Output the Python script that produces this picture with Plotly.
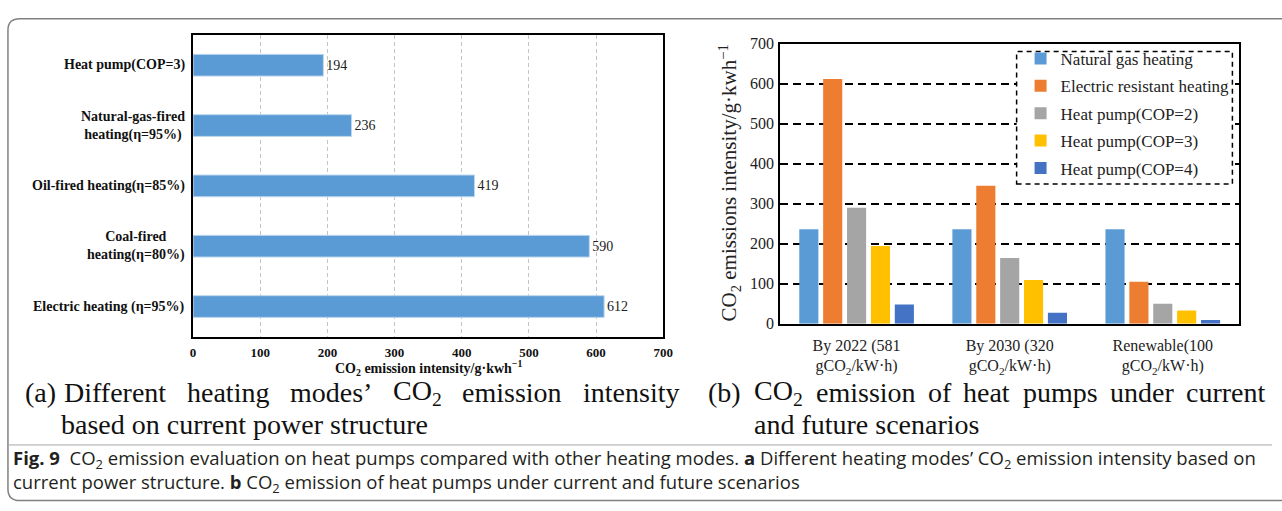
import plotly.graph_objects as go

W, H = 1282, 511

# ---- data: (a) heating modes, current power structure ----
modes = [
    "Heat pump(COP=3)",
    "Natural-gas-fired<br>heating(η=95%)",
    "Oil-fired heating(η=85%)",
    "Coal-fired<br>heating(η=80%)",
    "Electric heating (η=95%)",
]
mode_intensity = [194, 236, 419, 590, 612]
intensity_ticks = [0, 100, 200, 300, 400, 500, 600, 700]

# ---- data: (b) scenarios ----
scenarios = ["By 2022", "By 2030", "Renewable"]
scenario_labels = [
    "By 2022 (581<br>gCO<sub>2</sub>/kW·h)",
    "By 2030 (320<br>gCO<sub>2</sub>/kW·h)",
    "Renewable(100<br>gCO<sub>2</sub>/kW·h)",
]
natural_gas = [236, 236, 236]
electric_resistant = [612, 345, 105]
hp_cop2 = [290, 164, 50]
hp_cop3 = [194, 109, 33]
hp_cop4 = [48, 27, 9]
series_names = [
    "Natural gas heating",
    "Electric resistant heating",
    "Heat pump(COP=2)",
    "Heat pump(COP=3)",
    "Heat pump(COP=4)",
]
series_colors = ["#5B9BD5", "#ED7D31", "#A5A5A5", "#FFC000", "#4472C4"]


def px(x):
    return x / W


def py(y):
    return 1 - y / H


SERIF = "Liberation Serif, Times New Roman, serif"

fig = go.Figure()

# (a) horizontal bars
fig.add_trace(go.Bar(
    x=mode_intensity, y=modes, orientation="h",
    xaxis="x", yaxis="y", width=0.36,
    marker=dict(color="#5B9BD5", line=dict(color="#BDD7EE", width=1)),
    text=mode_intensity, textposition="outside", cliponaxis=False,
    textfont=dict(family=SERIF, size=14, color="#222"),
    showlegend=False, hoverinfo="skip",
))

# (b) grouped bars, one legend group each so the rows can be spaced
for name, vals, col in zip(series_names,
                           [natural_gas, electric_resistant, hp_cop2, hp_cop3, hp_cop4],
                           series_colors):
    fig.add_trace(go.Bar(
        x=scenarios, y=vals, name=name, legendgroup=name,
        xaxis="x2", yaxis="y2",
        marker=dict(color=col, line=dict(width=0)),
    ))

fig.update_layout(
    width=W, height=H, margin=dict(l=0, r=0, t=0, b=0),
    paper_bgcolor="white", plot_bgcolor="white",
    barmode="group", bargap=0.22, bargroupgap=0.2,
    font=dict(family=SERIF, color="#222"),
    xaxis=dict(
        domain=[px(192), px(667)], anchor="y", range=[0, 700],
        tickvals=intensity_ticks, ticks="", ticklabelstandoff=3,
        tickfont=dict(family=SERIF, size=13, color="#111", weight="bold"),
        showgrid=True, gridcolor="#c4c4c4", griddash="4px,3px", gridwidth=1,
        showline=True, mirror=True, linecolor="black", linewidth=2,
        zeroline=False,
    ),
    yaxis=dict(
        domain=[py(340), py(28)], anchor="x", type="category",
        categoryorder="array", categoryarray=modes,
        range=[4.5, -0.5], showticklabels=False, ticks="",
        showgrid=False, showline=True, mirror=True,
        linecolor="black", linewidth=2, zeroline=False,
    ),
    xaxis2=dict(
        domain=[px(785), px(1249)], anchor="y2", type="category",
        categoryorder="array", categoryarray=scenarios,
        range=[-0.5, 2.5], tickvals=scenarios, ticktext=scenario_labels,
        ticks="", ticklabelstandoff=6,
        tickfont=dict(family=SERIF, size=16, color="#222"),
        showgrid=False, showline=True, mirror=True,
        linecolor="black", linewidth=1.5, zeroline=False,
    ),
    yaxis2=dict(
        domain=[py(326.5), py(37)], anchor="x2", range=[0, 700], dtick=100,
        ticks="", ticklabelstandoff=1,
        tickfont=dict(family=SERIF, size=16, color="#222"),
        showgrid=True, gridcolor="black", gridwidth=1.5, griddash="8px,5px",
        showline=True, mirror=True, linecolor="black", linewidth=1.5,
        zeroline=False,
    ),
    legend=dict(
        x=px(1028), y=py(34), xanchor="left", yanchor="top",
        font=dict(family=SERIF, size=17, color="#222"),
        bgcolor="rgba(0,0,0,0)", borderwidth=0, itemwidth=30,
        traceorder="grouped", tracegroupgap=2.3,
    ),
)

shapes = []
# dashed box behind the legend
shapes.append(dict(type="rect", xref="paper", yref="paper",
                   x0=px(1024), x1=px(1242), y0=py(182), y1=py(45),
                   line=dict(color="black", width=1.5, dash="5px,4px"),
                   fillcolor="white", layer="above"))
# outer rounded frame
rx, ry = 12 / W, 12 / H
xl, yt, yb = px(5), py(11), py(509.5)
frame_path = (f"M 1.01,{yt} L {xl + rx},{yt} Q {xl},{yt} {xl},{yt - ry} "
              f"L {xl},{yb + ry} Q {xl},{yb} {xl + rx},{yb} L 1.01,{yb}")
shapes.append(dict(type="path", xref="paper", yref="paper", path=frame_path,
                   line=dict(color="#808080", width=1.5)))
# separator above the figure caption
shapes.append(dict(type="line", xref="paper", yref="paper",
                   x0=px(5), x1=1.0, y0=py(452), y1=py(452),
                   line=dict(color="#a8a8a8", width=1)))
fig.update_layout(shapes=shapes)

ann = []
# category labels for (a), centred multi-line
for m in modes:
    ann.append(dict(text=f"<b>{m}</b>", xref="paper", yref="y", x=px(186), y=m,
                    xanchor="right", yanchor="middle", align="center",
                    showarrow=False,
                    font=dict(family=SERIF, size=14, color="#111")))
# axis titles
ann.append(dict(text="<b>CO<sub>2</sub> emission intensity/g·kwh<sup>−1</sup></b>",
                xref="paper", yref="paper", x=px(430), y=py(372),
                xanchor="center", yanchor="middle", showarrow=False,
                font=dict(family=SERIF, size=14, color="#111")))
ann.append(dict(text="CO<sub>2</sub> emissions intensity/g·kwh<sup>−1</sup>",
                xref="paper", yref="paper", x=px(734), y=py(181),
                xanchor="center", yanchor="middle", textangle=-90,
                showarrow=False,
                font=dict(family=SERIF, size=21, color="#222")))

# sub-figure captions, word by word for justified lines
CAP = dict(family=SERIF, size=28, color="#111")
cap_words = [
    ("(a)", 20, 398), ("Different", 60, 398), ("heating", 184, 398),
    ("modes’", 288, 398), ("CO<sub>2</sub>", 392, 398), ("emission", 462, 398),
    ("intensity", 584, 398),
    ("based on current power structure", 57, 431),
    ("(b)", 710, 398), ("CO<sub>2</sub>", 757, 398), ("emission", 819, 398),
    ("of", 932, 398), ("heat", 968, 398), ("pumps", 1028, 398),
    ("under", 1116, 398), ("current", 1193, 398),
    ("and future scenarios", 757, 431),
]
for t, x, y in cap_words:
    ann.append(dict(text=t, xref="paper", yref="paper", x=px(x), y=py(y),
                    xanchor="left", yanchor="middle", showarrow=False, font=CAP))

# figure caption (two lines in one text block)
FIG = dict(family="Open Sans", size=18.5, color="#231f20")
fig_caption = ("<b>Fig.\u00a09</b>\u00a0\u00a0CO<sub>2</sub> emission evaluation on heat pumps "
               "compared with other heating modes. <b>a</b> Different heating modes’\u00a0"
               "CO<sub>2</sub> emission intensity based on<br>"
               "current power structure. <b>b</b>\u00a0CO<sub>2</sub> emission of heat pumps "
               "under current and future scenarios")
ann.append(dict(text=fig_caption, xref="paper", yref="paper", x=px(8), y=py(479),
                xanchor="left", yanchor="middle", align="left",
                showarrow=False, font=FIG))

fig.update_layout(annotations=ann)

fig.write_html("out.html")
